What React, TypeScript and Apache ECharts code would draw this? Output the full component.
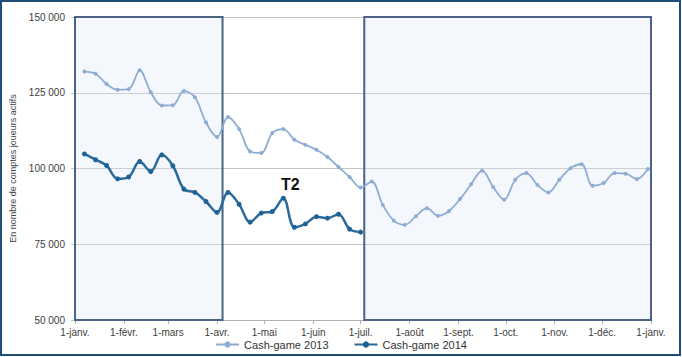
import React, { useEffect, useRef } from "react";
import * as echarts from "echarts";

// Tick labels (month starts) and their day-of-year positions
const monthLabels = [
  "1-janv.", "1-févr.", "1-mars", "1-avr.", "1-mai", "1-juin", "1-juil.",
  "1-août", "1-sept.", "1-oct.", "1-nov.", "1-déc.", "1-janv.",
];
const monthDays = [0, 31, 59, 90, 120, 151, 181, 212, 243, 273, 304, 334, 365];

// Weekly values (number of active accounts)
const cash2013 = [
  132000, 131300, 127900, 126000, 126200, 132400, 125200, 120800, 120900, 125600,
  123500, 115200, 110400, 117000, 113000, 105600, 105100, 111700, 113000, 109500,
  107800, 106200, 103800, 100500, 97200, 93700, 95700, 88000, 82800, 81400,
  84200, 86900, 84400, 86000, 89900, 94800, 99300, 93900, 89700, 96300,
  98500, 94600, 92100, 96300, 100100, 101400, 94300, 95200, 98500, 98300,
  96500, 99800,
];
const cash2014 = [
  104800, 102900, 101000, 96600, 97200, 102300, 99000, 104500, 100900, 93200,
  92100, 89100, 85500, 92100, 88200, 82300, 85300, 85800, 90200, 80600,
  81700, 84100, 83600, 84900, 80000, 79000,
];
const FIRST_WEEK_DAY = 6;
const yTicks = [50000, 75000, 100000, 125000, 150000];

// Highlighted periods (day-of-year)
const periodT1 = [0, 93.5];
const periodT3T4 = [183.3, 365];

const toPairs = (vals: number[]) => vals.map((v, i) => [FIRST_WEEK_DAY + 7 * i, v]);

export default function App() {
  const ref = useRef<HTMLDivElement>(null);
  useEffect(() => {
    if (!ref.current) return;
    const chart = echarts.init(ref.current, undefined, { renderer: "svg" });
    const font = "Liberation Sans, Arial, sans-serif";
    const boxStyle = {
      color: "rgba(220,232,247,0.3)",
      borderColor: "#4a6387",
      borderWidth: 2,
    };
    chart.setOption({
      animation: false,
      backgroundColor: "#ffffff",
      textStyle: { fontFamily: font },
      grid: { left: 73, right: 31, top: 17, bottom: 37 },
      legend: {
        bottom: 2,
        left: "center",
        itemWidth: 23,
        itemHeight: 8,
        itemGap: 25,
        textStyle: { fontSize: 11, color: "#333", fontFamily: font },
        data: ["Cash-game 2013", "Cash-game 2014"],
      },
      xAxis: {
        type: "value",
        min: 0,
        max: 365,
        splitLine: { show: false },
        axisLine: { show: true, lineStyle: { color: "#b0b0b0" } },
        axisTick: {
          show: true,
          length: 4,
          customValues: monthDays,
          lineStyle: { color: "#b0b0b0" },
        },
        axisLabel: {
          customValues: monthDays,
          fontSize: 10,
          color: "#404040",
          margin: 7,
          formatter: (v: number) => {
            const i = monthDays.indexOf(Math.round(v));
            return i >= 0 ? monthLabels[i] : "";
          },
        },
      },
      yAxis: {
        type: "value",
        min: yTicks[0],
        max: yTicks[yTicks.length - 1],
        interval: 25000,
        name: "En nombre de comptes joueurs actifs",
        nameLocation: "middle",
        nameRotate: 90,
        nameGap: 58,
        nameTextStyle: { fontSize: 9, color: "#444" },
        axisLine: { show: true, lineStyle: { color: "#c8c8c8" } },
        axisTick: { show: true, length: 4, lineStyle: { color: "#c8c8c8" } },
        axisLabel: {
          fontSize: 10,
          color: "#404040",
          margin: 10,
          formatter: (v: number) => {
            const s = String(v);
            return s.length > 3 ? s.slice(0, s.length - 3) + " " + s.slice(-3) : s;
          },
        },
        splitLine: { show: true, lineStyle: { color: "#c4c4c4", width: 1 } },
      },
      series: [
        {
          name: "Cash-game 2013",
          type: "line",
          data: toPairs(cash2013),
          smooth: 0.35,
          symbol: "circle",
          symbolSize: 4,
          itemStyle: { color: "#8fadd3" },
          lineStyle: { color: "#8fadd3", width: 1.8 },
          z: 3,
          markArea: {
            silent: true,
            itemStyle: boxStyle,
            data: [
              [{ xAxis: periodT1[0] }, { xAxis: periodT1[1] }],
              [{ xAxis: periodT3T4[0] }, { xAxis: periodT3T4[1] }],
            ],
          },
        },
        {
          name: "Cash-game 2014",
          type: "line",
          data: toPairs(cash2014),
          smooth: 0.35,
          symbol: "circle",
          symbolSize: 5,
          itemStyle: { color: "#1f6396" },
          lineStyle: { color: "#2a6b9c", width: 2.5 },
          z: 4,
        },
      ],
      graphic: [
        {
          type: "text",
          left: 281,
          top: 176,
          style: {
            text: "T2",
            fontSize: 16,
            fontWeight: "bold",
            fill: "#111",
            fontFamily: font,
          },
        },
        {
          type: "rect",
          shape: { x: 1, y: 1, width: 679, height: 354 },
          style: { fill: "none", stroke: "#1f4e79", lineWidth: 2 },
          silent: true,
        },
      ],
    });
    return () => chart.dispose();
  }, []);
  return (
    <div
      ref={ref}
      style={{ position: "fixed", left: 0, top: 0, width: 682, height: 357 }}
    />
  );
}
